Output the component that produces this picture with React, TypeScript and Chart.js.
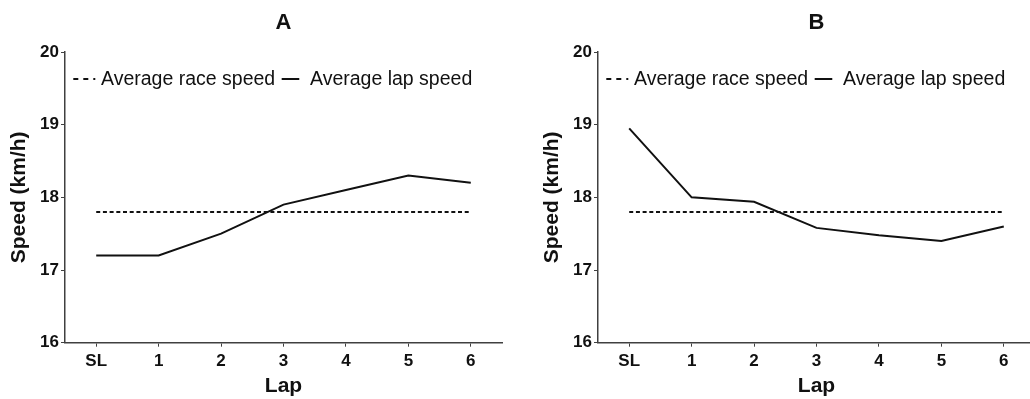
import React, { useEffect, useRef } from "react";
import { Chart, registerables } from "chart.js";

Chart.register(...registerables);

const laps = ["SL", "1", "2", "3", "4", "5", "6"];
const lapSpeedA = [17.2, 17.2, 17.5, 17.9, 18.1, 18.3, 18.2];
const raceSpeedA = [17.8, 17.8, 17.8, 17.8, 17.8, 17.8, 17.8];
const lapSpeedB = [18.95, 18.0, 17.94, 17.58, 17.48, 17.4, 17.6];
const raceSpeedB = [17.8, 17.8, 17.8, 17.8, 17.8, 17.8, 17.8];
const yTicks = [16, 17, 18, 19, 20];
const panelTitles = ["A", "B"];
const seriesLabels = ["Average race speed", "Average lap speed"];
const yTitle = "Speed (km/h)";
const xTitle = "Lap";

const FONT = "'Liberation Sans', Arial, sans-serif";
const INK = "#111111";
const AXIS = "#404040";

const panelDecor = {
  id: "panelDecor",
  afterDraw(chart: any, _args: any, opts: any) {
    const { ctx, chartArea } = chart;
    ctx.save();
    // panel title
    ctx.fillStyle = INK;
    ctx.font = `bold 22px ${FONT}`;
    ctx.textAlign = "center";
    ctx.textBaseline = "alphabetic";
    ctx.fillText(opts.title, (chartArea.left + chartArea.right) / 2, 29);
    // legend inside plot area
    ctx.font = `19.5px ${FONT}`;
    ctx.textAlign = "left";
    const baseY = 85;
    const lineY = 79;
    let x = chartArea.left + 8.3;
    const markerLens = [22, 17.6];
    const gapAfterMarker = [5.7, 10.7];
    chart.data.datasets.forEach((ds: any, i: number) => {
      ctx.beginPath();
      ctx.strokeStyle = ds.borderColor;
      ctx.lineWidth = 2;
      ctx.setLineDash(i === 0 ? [5, 5] : []);
      ctx.moveTo(x, lineY);
      ctx.lineTo(x + markerLens[i], lineY);
      ctx.stroke();
      ctx.setLineDash([]);
      x += markerLens[i] + gapAfterMarker[i];
      ctx.fillStyle = INK;
      ctx.fillText(ds.label, x, baseY);
      x += ctx.measureText(ds.label).width + 6.5;
    });
    ctx.restore();
  },
};

function makeConfig(title: string, race: number[], lap: number[]): any {
  return {
    type: "line",
    data: {
      labels: laps,
      datasets: [
        {
          label: seriesLabels[0],
          data: race,
          borderColor: INK,
          borderWidth: 2,
          borderDash: [4, 2.7],
          pointRadius: 0,
          tension: 0,
          fill: false,
        },
        {
          label: seriesLabels[1],
          data: lap,
          borderColor: INK,
          borderWidth: 2,
          pointRadius: 0,
          tension: 0,
          fill: false,
        },
      ],
    },
    options: {
      responsive: false,
      animation: false,
      layout: { padding: { top: 52, right: 13, bottom: 0, left: 0 } },
      plugins: {
        legend: { display: false },
        title: { display: false },
        tooltip: { enabled: false },
        panelDecor: { title },
      },
      scales: {
        x: {
          type: "category",
          offset: true,
          grid: {
            offset: false,
            drawOnChartArea: false,
            drawTicks: true,
            tickLength: 4,
            color: AXIS,
          },
          border: { color: AXIS, width: 1.5 },
          ticks: {
            color: INK,
            padding: 4,
            font: { family: FONT, weight: "bold", size: 17 },
          },
          title: {
            display: true,
            text: xTitle,
            color: INK,
            font: { family: FONT, weight: "bold", size: 21 },
            padding: { top: 0, bottom: 0 },
          },
          afterFit: (s: any) => {
            s.height = 56.3;
          },
        },
        y: {
          min: yTicks[0],
          max: yTicks[yTicks.length - 1],
          afterBuildTicks: (s: any) => {
            s.ticks = yTicks.map((v) => ({ value: v }));
          },
          grid: {
            drawOnChartArea: false,
            drawTicks: true,
            tickLength: 4,
            color: AXIS,
          },
          border: { color: AXIS, width: 1.5 },
          ticks: {
            color: INK,
            padding: 2,
            font: { family: FONT, weight: "bold", size: 17 },
          },
          title: {
            display: true,
            text: yTitle,
            color: INK,
            font: { family: FONT, weight: "bold", size: 21 },
            padding: { top: 7, bottom: 0 },
          },
          afterFit: (s: any) => {
            s.width = 65;
          },
        },
      },
    },
    plugins: [panelDecor],
  };
}

function Panel({ left, title, race, lap }: { left: number; title: string; race: number[]; lap: number[] }) {
  const ref = useRef<HTMLCanvasElement | null>(null);
  useEffect(() => {
    if (!ref.current) return;
    const chart = new Chart(ref.current, makeConfig(title, race, lap));
    return () => chart.destroy();
  }, [title, race, lap]);
  return (
    <canvas
      ref={ref}
      width={515}
      height={399}
      style={{ position: "absolute", left, top: 0, width: 515, height: 399 }}
    />
  );
}

export default function App() {
  return (
    <div
      style={{
        position: "fixed",
        left: 0,
        top: 0,
        width: 1030,
        height: 399,
        overflow: "hidden",
        background: "#ffffff",
      }}
    >
      <Panel left={0} title={panelTitles[0]} race={raceSpeedA} lap={lapSpeedA} />
      <Panel left={533} title={panelTitles[1]} race={raceSpeedB} lap={lapSpeedB} />
    </div>
  );
}
